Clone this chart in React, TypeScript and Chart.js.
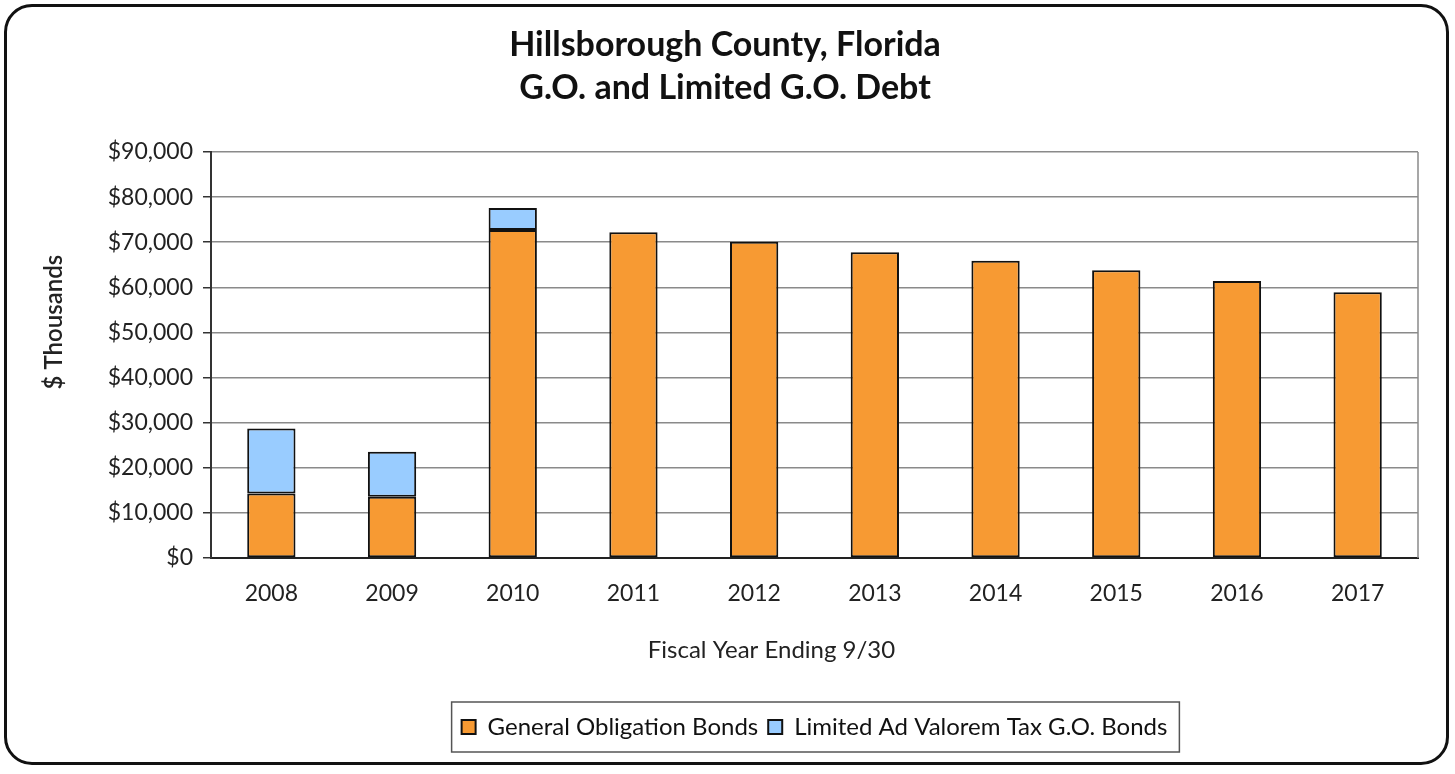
import React, { useEffect, useRef } from "react";
import { Chart, registerables } from "chart.js";

Chart.register(...registerables);

const fiscalYears = ["2008", "2009", "2010", "2011", "2012", "2013", "2014", "2015", "2016", "2017"];
const generalObligationBonds = [14300, 13600, 72700, 72200, 70100, 67800, 65900, 63800, 61400, 58900];
const limitedAdValoremBonds = [14400, 9950, 4900, null, null, null, null, null, null, null];
const titleLines = ["Hillsborough County, Florida", "G.O. and Limited G.O. Debt"];
const seriesNames = ["General Obligation Bonds", "Limited Ad Valorem Tax G.O. Bonds"];
const yAxisTitle = "$ Thousands";
const xAxisTitle = "Fiscal Year Ending 9/30";

const FONT = "Lato, 'Open Sans', sans-serif";

const frameLegendPlugin = {
  id: "frameLegend",
  afterDraw(chart: any) {
    const { ctx, chartArea } = chart;
    ctx.save();
    // right border of plot area
    ctx.strokeStyle = "#8a8a8a";
    ctx.lineWidth = 1.5;
    ctx.beginPath();
    ctx.moveTo(chartArea.right, chartArea.top);
    ctx.lineTo(chartArea.right, chartArea.bottom);
    ctx.stroke();
    // legend frame
    const boxes = chart.legend && chart.legend.legendHitBoxes;
    if (boxes && boxes.length) {
      let l = Infinity, r = -Infinity, t = Infinity, b = -Infinity;
      boxes.forEach((h: any) => {
        l = Math.min(l, h.left);
        r = Math.max(r, h.left + h.width);
        t = Math.min(t, h.top);
        b = Math.max(b, h.top + h.height);
      });
      ctx.strokeStyle = "#555";
      ctx.lineWidth = 1.5;
      ctx.strokeRect(l - 10, t - 13, r - l + 22, b - t + 26);
    }
    ctx.restore();
  },
};

export default function App() {
  const canvasRef = useRef<HTMLCanvasElement | null>(null);

  useEffect(() => {
    if (!canvasRef.current) return;
    const chart = new Chart(canvasRef.current, {
      type: "bar",
      data: {
        labels: fiscalYears,
        datasets: [
          {
            label: seriesNames[0],
            data: generalObligationBonds,
            backgroundColor: "#F79A33",
            borderColor: "#111",
            borderWidth: 2,
            borderSkipped: false,
            barPercentage: 0.4,
            categoryPercentage: 1,
          },
          {
            label: seriesNames[1],
            data: limitedAdValoremBonds as any,
            backgroundColor: "#99CCFF",
            borderColor: "#111",
            borderWidth: 2,
            borderSkipped: false,
            barPercentage: 0.4,
            categoryPercentage: 1,
          },
        ],
      },
      options: {
        animation: false,
        responsive: true,
        maintainAspectRatio: false,
        layout: { padding: { left: 32, right: 37, top: 5, bottom: 25 } },
        plugins: {
          tooltip: { enabled: false },
          title: {
            display: true,
            text: titleLines,
            color: "#111",
            font: { family: FONT, size: 34, weight: "bold", lineHeight: 1.265 },
            padding: { top: 18.5, bottom: 42.5 },
          },
          legend: {
            position: "bottom",
            fullSize: false,
            labels: {
              color: "#111",
              font: { family: FONT, size: 24 },
              boxWidth: 14,
              boxHeight: 14,
              padding: 10,
            },
          },
        },
        scales: {
          x: {
            stacked: true,
            grid: { display: false, drawTicks: false },
            border: { color: "#222", width: 2 },
            ticks: { color: "#222", font: { family: FONT, size: 23 }, padding: 22 },
            title: {
              display: true,
              text: xAxisTitle + "              ",
              color: "#222",
              font: { family: FONT, size: 24 },
              padding: { top: 0, bottom: 40 },
            },
            afterFit(scale: any) {
              scale.height = 147;
            },
          },
          y: {
            stacked: true,
            min: 0,
            max: 90000,
            ticks: {
              stepSize: 10000,
              color: "#222",
              font: { family: FONT, size: 23 },
              padding: 10,
              callback: (v: any) => "$" + Number(v).toLocaleString("en-US"),
            },
            grid: { color: "#8a8a8a", lineWidth: 1.5, tickLength: 8, tickColor: "#333" },
            border: { color: "#333", width: 2 },
            title: {
              display: true,
              text: "           " + yAxisTitle,
              color: "#222",
              font: { family: FONT, size: 24, weight: 600 },
              padding: { top: 8, bottom: 0 },
            },
            afterFit(scale: any) {
              scale.width = 211 - 32;
            },
          },
        },
      },
      plugins: [frameLegendPlugin],
    });
    return () => chart.destroy();
  }, []);

  return (
    <div style={{ position: "fixed", left: 0, top: 0, width: 1455, height: 774, background: "#fff" }}>
      <div
        style={{
          position: "absolute",
          left: 4,
          top: 4,
          width: 1445,
          height: 761,
          border: "3px solid #111",
          borderRadius: 28,
          boxSizing: "border-box",
        }}
      />
      <div style={{ position: "absolute", left: 0, top: 0, width: 1455, height: 774 }}>
        <canvas ref={canvasRef} />
      </div>
    </div>
  );
}
